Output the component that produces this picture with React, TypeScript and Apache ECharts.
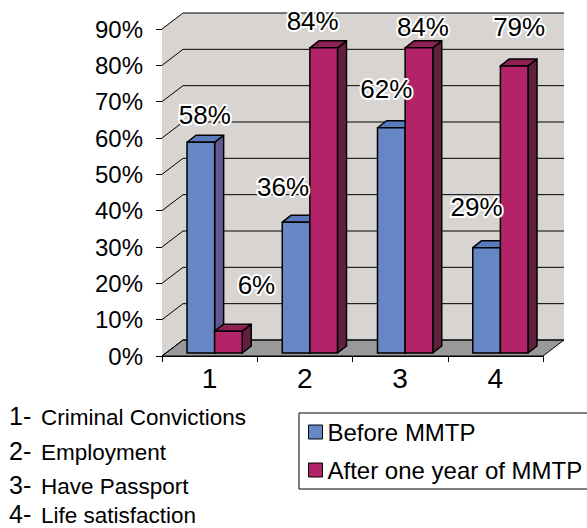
import React, { useEffect, useRef } from "react";
import * as echarts from "echarts";

// ---- data ----
const CATEGORIES = ["1", "2", "3", "4"];
const CATEGORY_NAMES = ["Criminal Convictions", "Employment", "Have Passport", "Life satisfaction"];
const SERIES_NAMES = ["Before MMTP", "After one year of MMTP"];
const BEFORE = [58, 36, 62, 29];
const AFTER = [6, 84, 84, 79];
const Y_TICKS = [0, 10, 20, 30, 40, 50, 60, 70, 80, 90];

// ---- layout / style ----
const FONT = "'Liberation Sans', Arial, sans-serif";
const WALL_DEPTH = [21, -16];
const BAR_FRONT = [5, -3];
const BAR_DEPTH = [9, -7];
const BAR_FRACTION = 0.29;
const WALL_COLOR = "#d7d4d1";
const FLOOR_COLOR = "#999999";
const COLORS = [
  { front: "#6687c4", top: "#5a7bbb", side: "#625a96" },
  { front: "#b22467", top: "#8e2152", side: "#62203f" },
];
// label nudges (px) relative to the top-centre of each bar's front face
const LABEL_NUDGE = [
  [[4, -27], [-13, -35], [-5, -39], [-10, -41]],
  [[28, -46], [-11, -27], [4, -21], [5, -39]],
];
const ROW_Y = [416, 451, 485, 514];

function wallRender(params: any, api: any) {
  const cs = params.coordSys;
  const L = cs.x, R = cs.x + cs.width, T = cs.y, B = cs.y + cs.height;
  const [dx, dy] = WALL_DEPTH;
  const children: any[] = [
    {
      type: "polygon",
      shape: { points: [[L, B], [L, T], [L + dx, T + dy], [L + dx, B + dy]] },
      style: { fill: WALL_COLOR },
    },
    {
      type: "rect",
      shape: { x: L + dx, y: T + dy, width: R - L, height: B - T },
      style: { fill: WALL_COLOR },
    },
    {
      type: "polygon",
      shape: { points: [[L, B], [R, B], [R + dx, B + dy], [L + dx, B + dy]] },
      style: { fill: FLOOR_COLOR, stroke: "#000", lineWidth: 1 },
    },
  ];
  Y_TICKS.forEach((v) => {
    const y = api.coord([0, v])[1];
    children.push({
      type: "polyline",
      shape: { points: [[L, y], [L + dx, y + dy], [R + dx, y + dy]] },
      style: { stroke: "#000", lineWidth: 1, fill: null },
    });
  });
  return { type: "group", children };
}

function barRender(si: number) {
  return (params: any, api: any) => {
    const cat = api.value(0);
    const val = api.value(1);
    const base = api.coord([cat, 0]);
    const topPt = api.coord([cat, val]);
    const band = api.size([1, 0])[0];
    const w = band * BAR_FRACTION;
    const x0 = base[0] + BAR_FRONT[0] - (si === 0 ? w : 0);
    const yB = base[1] + BAR_FRONT[1];
    const yT = topPt[1] + BAR_FRONT[1];
    const [ddx, ddy] = BAR_DEPTH;
    const c = COLORS[si];
    const stroke = { stroke: "#000", lineWidth: 1.5, lineJoin: "round" };
    const nudge = LABEL_NUDGE[si][params.dataIndex];
    return {
      type: "group",
      children: [
        {
          type: "polygon",
          z2: si + 1,
          shape: { points: [[x0 + w, yT], [x0 + w + ddx, yT + ddy], [x0 + w + ddx, yB + ddy], [x0 + w, yB]] },
          style: { fill: c.side, ...stroke },
        },
        {
          type: "polygon",
          z2: si + 1,
          shape: { points: [[x0, yT], [x0 + w, yT], [x0 + w + ddx, yT + ddy], [x0 + ddx, yT + ddy]] },
          style: { fill: c.top, ...stroke },
        },
        {
          type: "rect",
          z2: si + 1,
          shape: { x: x0, y: yT, width: w, height: yB - yT },
          style: { fill: c.front, ...stroke },
        },
        {
          type: "text",
          z2: 20,
          style: {
            text: val + "%",
            x: x0 + w / 2 + nudge[0],
            y: yT + nudge[1],
            align: "center",
            verticalAlign: "middle",
            fontSize: 26,
            fontFamily: FONT,
            fill: "#000",
            stroke: "#fff",
            lineWidth: 4,
          },
        },
      ],
    };
  };
}

export default function App() {
  const ref = useRef<HTMLDivElement>(null);
  useEffect(() => {
    document.body.style.margin = "0";
    const chart = echarts.init(ref.current!, null, { renderer: "svg" });
    const rows: any[] = [];
    CATEGORY_NAMES.forEach((name, i) => {
      rows.push({
        type: "text",
        x: 9,
        y: ROW_Y[i],
        style: {
          text: CATEGORIES[i] + "-",
          verticalAlign: "middle",
          fontSize: 25,
          fontFamily: FONT,
          fill: "#000",
        },
      });
      rows.push({
        type: "text",
        x: 41,
        y: ROW_Y[i] + 1,
        style: {
          text: name,
          verticalAlign: "middle",
          fontSize: 22.5,
          fontFamily: FONT,
          fill: "#000",
        },
      });
    });
    chart.setOption({
      animation: false,
      backgroundColor: "#fff",
      grid: { left: 162, right: 44, top: 29, bottom: 172, containLabel: false },
      xAxis: {
        type: "category",
        data: CATEGORIES,
        boundaryGap: true,
        axisLine: { lineStyle: { color: "#000", width: 1 } },
        axisTick: { show: true, length: 6, lineStyle: { color: "#000" } },
        axisLabel: { fontSize: 28, fontFamily: FONT, color: "#000", margin: 8 },
        splitLine: { show: false },
      },
      yAxis: {
        type: "value",
        min: 0,
        max: 90,
        interval: 10,
        axisLine: { show: true, lineStyle: { color: "#000", width: 1 } },
        axisTick: { show: true, length: 6, lineStyle: { color: "#000" } },
        axisLabel: { formatter: "{value}%", fontSize: 24, fontFamily: FONT, color: "#000", margin: 19 },
        splitLine: { show: false },
      },
      legend: {
        data: SERIES_NAMES,
        orient: "vertical",
        left: 299,
        top: 413,
        itemWidth: 14,
        itemHeight: 14,
        itemGap: 14,
        padding: [7, 30, 7, 9],
        icon: "rect",
        borderColor: "#000",
        borderWidth: 1,
        selectedMode: false,
        itemStyle: { borderColor: "#000", borderWidth: 1 },
        textStyle: { fontSize: 24, fontFamily: FONT, color: "#000" },
      },
      graphic: rows,
      series: [
        {
          type: "custom",
          name: "walls",
          z: 1,
          silent: true,
          data: [[0, 0]],
          renderItem: wallRender,
        },
        {
          type: "custom",
          name: SERIES_NAMES[0],
          z: 2,
          itemStyle: { color: COLORS[0].front },
          data: BEFORE.map((v, i) => [i, v]),
          encode: { x: 0, y: 1 },
          renderItem: barRender(0),
        },
        {
          type: "custom",
          name: SERIES_NAMES[1],
          z: 2,
          itemStyle: { color: COLORS[1].front },
          data: AFTER.map((v, i) => [i, v]),
          encode: { x: 0, y: 1 },
          renderItem: barRender(1),
        },
      ],
    });
    return () => chart.dispose();
  }, []);
  return <div ref={ref} style={{ width: 587, height: 528 }} />;
}
